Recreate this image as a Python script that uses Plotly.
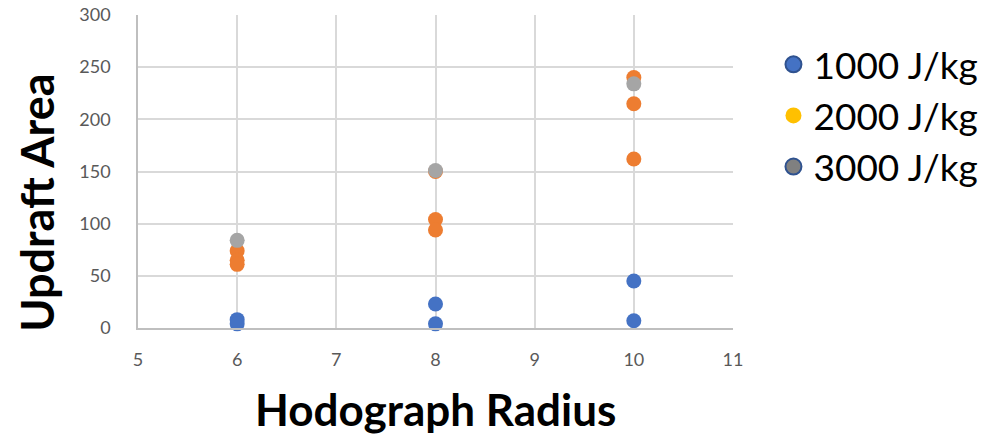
import plotly.graph_objects as go

radius_1000 = [6, 6, 8, 8, 10, 10]
area_1000 = [8, 4, 23, 4, 45, 7]
radius_2000 = [6, 6, 6, 8, 8, 8, 10, 10, 10]
area_2000 = [74, 65, 61, 150, 104, 94, 240, 215, 162]
radius_3000 = [6, 8, 10]
area_3000 = [84, 151, 234]

series_names = ["1000 J/kg", "2000 J/kg", "3000 J/kg"]
point_colors = ["#4472C4", "#ED7D31", "#A5A5A5"]
legend_colors = ["#4472C4", "#FFC000", "#808080"]
legend_lines = ["#2F528F", "#FFC000", "#2F528F"]

x_ticks = [5, 6, 7, 8, 9, 10, 11]
y_ticks = [0, 50, 100, 150, 200, 250, 300]

FONT = "Lato"
fig = go.Figure()
data = [(radius_1000, area_1000), (radius_2000, area_2000), (radius_3000, area_3000)]
for (xs, ys), c in zip(data, point_colors):
    fig.add_trace(go.Scatter(x=xs, y=ys, mode="markers", showlegend=False, cliponaxis=False,
                             marker=dict(size=15, color=c, line=dict(width=0))))
for name, c, lc in zip(series_names, legend_colors, legend_lines):
    fig.add_trace(go.Scatter(x=[None], y=[None], mode="markers", name=name,
                             marker=dict(size=20, color=c, line=dict(width=2 if lc != c else 0, color=lc))))

axis_common = dict(showgrid=True, gridcolor="#D9D9D9", gridwidth=1.5, zeroline=False,
                   showline=True, linecolor="#BFBFBF", linewidth=1.5, automargin=False,
                   tickfont=dict(family=FONT, size=18, color="#595959"), ticks="")
fig.update_xaxes(range=[5, 11], tickvals=x_ticks, ticklabelstandoff=15, **axis_common)
fig.update_yaxes(range=[0, 300], tickvals=y_ticks, ticklabelstandoff=22, **axis_common)

fig.update_layout(
    width=988, height=434, margin=dict(l=138, r=255, t=15, b=106, autoexpand=False),
    plot_bgcolor="white", paper_bgcolor="white",
    font=dict(family=FONT),
    legend=dict(x=1.068, y=0.94, xanchor="left", yanchor="top",
                font=dict(family=FONT, size=37, color="#000000"),
                itemsizing="trace", tracegroupgap=0, bgcolor="rgba(0,0,0,0)"),
    annotations=[
        dict(text="<b>Hodograph Radius</b>", xref="paper", yref="paper", x=0.5, y=-0.26,
             xanchor="center", yanchor="middle", showarrow=False,
             font=dict(family=FONT, size=44, color="#000000")),
        dict(text="<b>Updraft Area</b>", xref="paper", yref="paper", x=-0.17, y=0.40,
             xanchor="center", yanchor="middle", showarrow=False, textangle=-90,
             font=dict(family=FONT, size=45, color="#000000")),
    ],
)
fig.write_html("out.html")
